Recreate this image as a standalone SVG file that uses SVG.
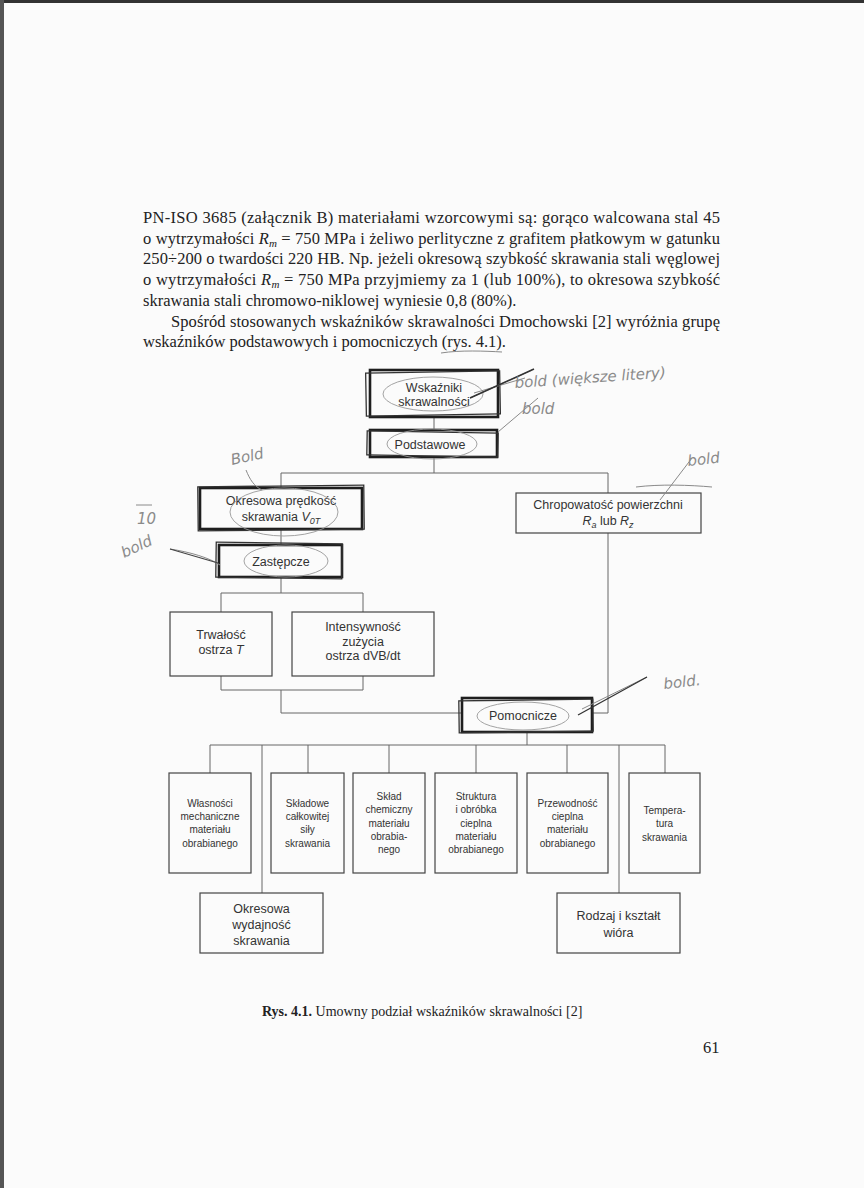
<svg xmlns="http://www.w3.org/2000/svg" width="864" height="1188" viewBox="0 0 864 1188">
<style>
.body{font-family:"Liberation Serif","Times New Roman",serif;font-size:16.5px;fill:#222}
.cap{font-family:"Liberation Serif","Times New Roman",serif;font-size:14px;fill:#222}
.t{font-family:"Liberation Sans",Arial,sans-serif;font-size:12.5px;fill:#333;text-anchor:middle}
.s{font-family:"Liberation Sans",Arial,sans-serif;font-size:10px;fill:#333;text-anchor:middle}
.box{fill:none;stroke:#444;stroke-width:1.2}
.heavy{fill:none;stroke:#1e1e1e;stroke-width:2.6}
.scr{fill:none;stroke:#333;stroke-width:1.3}
.con{fill:none;stroke:#666;stroke-width:1}
.hw{font-family:"DejaVu Sans",sans-serif;font-style:italic;font-size:15px;fill:#8a8a8a}
.hwl{fill:none;stroke:#8a8a8a;stroke-width:1}
.ell{fill:none;stroke:#999;stroke-width:0.9}
</style>
<rect width="864" height="1188" fill="#fbfbfb"/>
<rect x="0" y="0" width="864" height="3" fill="#333"/>
<rect x="0" y="0" width="4" height="1188" fill="#555"/>

<g id="paragraph">
<text class="body" x="143" y="223" textLength="577" lengthAdjust="spacing">PN-ISO 3685 (załącznik B) materiałami wzorcowymi są: gorąco walcowana stal 45</text>
<text class="body" x="143" y="244" textLength="577" lengthAdjust="spacing">o wytrzymałości <tspan font-style="italic">R<tspan font-size="11px" dy="3">m</tspan></tspan><tspan dy="-3"> = 750 MPa i żeliwo perlityczne z grafitem płatkowym w gatunku</tspan></text>
<text class="body" x="143" y="264" textLength="577" lengthAdjust="spacing">250÷200 o twardości 220 HB. Np. jeżeli okresową szybkość skrawania stali węglowej</text>
<text class="body" x="143" y="285" textLength="577" lengthAdjust="spacing">o wytrzymałości <tspan font-style="italic">R<tspan font-size="11px" dy="3">m</tspan></tspan><tspan dy="-3"> = 750 MPa przyjmiemy za 1 (lub 100%), to okresowa szybkość</tspan></text>
<text class="body" x="143" y="306">skrawania stali chromowo-niklowej wyniesie 0,8 (80%).</text>
<text class="body" x="171" y="327" textLength="549" lengthAdjust="spacing">Spośród stosowanych wskaźników skrawalności Dmochowski [2] wyróżnia grupę</text>
<text class="body" x="143" y="347">wskaźników podstawowych i pomocniczych (rys. 4.1).</text>
</g>

<g id="connectors">
<path class="con" d="M434 417V430M434 457V473M281 473H608M281 473V488M608 473V493"/>
<path class="con" d="M281 529V545M281 577V593M221 593H363M221 593V612M363 593V612"/>
<path class="con" d="M221 676V690M363 676V690M221 690H363M281 690V713H462"/>
<path class="con" d="M608 533V713H592"/>
<path class="con" d="M527 732V745M210 745H665M210 745V773M308 745V773M389 745V773M476 745V773M567 745V773M665 745V773M262 745V893M619 745V893"/>
</g>

<g id="n-wskazniki">
<rect class="heavy" x="370" y="370" width="128" height="47"/>
<rect class="scr" x="366" y="372" width="134" height="43" transform="rotate(-1 434 393)"/>
<text class="t" x="434" y="391.5">Wskaźniki</text>
<text class="t" x="434" y="405.5">skrawalności</text>
</g>
<g id="n-podstawowe">
<rect class="heavy" x="370" y="430" width="127" height="27"/>
<rect class="scr" x="367" y="432" width="131" height="24" transform="rotate(1 434 444)"/>
<text class="t" x="430" y="448.5">Podstawowe</text>
</g>
<g id="n-okresowa">
<rect class="heavy" x="200" y="488" width="162" height="41"/>
<rect class="scr" x="198" y="486" width="166" height="44" transform="rotate(-0.6 281 508)"/>
<text class="t" x="281" y="505">Okresowa prędkość</text>
<text class="t" x="281" y="521">skrawania <tspan font-style="italic">V<tspan font-size="9px" dy="3">0T</tspan></tspan></text>
</g>
<g id="n-chropowatosc">
<rect class="box" x="516" y="493" width="185" height="40" stroke-width="1.6"/>
<text class="t" x="608" y="508.5">Chropowatość powierzchni</text>
<text class="t" x="608" y="524.5"><tspan font-style="italic">R<tspan font-size="9px" dy="3">a</tspan></tspan><tspan dy="-3"> lub </tspan><tspan font-style="italic">R<tspan font-size="9px" dy="3">z</tspan></tspan></text>
</g>
<g id="n-zastepcze">
<rect class="heavy" x="219" y="545" width="123" height="32"/>
<rect class="scr" x="216" y="543" width="126" height="35" transform="rotate(0.8 280 561)"/>
<text class="t" x="281" y="565.5">Zastępcze</text>
</g>
<g id="n-trwalosc">
<rect class="box" x="170" y="612" width="102" height="64"/>
<text class="t" x="221" y="639">Trwałość</text>
<text class="t" x="221" y="654">ostrza <tspan font-style="italic">T</tspan></text>
</g>
<g id="n-intensywnosc">
<rect class="box" x="292" y="612" width="142" height="64"/>
<text class="t" x="363" y="631">Intensywność</text>
<text class="t" x="363" y="645.5">zużycia</text>
<text class="t" x="363" y="660">ostrza dVB/dt</text>
</g>
<g id="n-pomocnicze">
<rect class="heavy" x="462" y="698" width="130" height="34"/>
<rect class="scr" x="459" y="700" width="134" height="32" transform="rotate(-0.8 527 715)"/>
<text class="t" x="523" y="719.5">Pomocnicze</text>
</g>

<g id="n-wlasnosci">
<rect class="box" x="169" y="773" width="82" height="100"/>
<text class="s" x="210" y="806.5">Własności</text>
<text class="s" x="210" y="820">mechaniczne</text>
<text class="s" x="210" y="833">materiału</text>
<text class="s" x="210" y="846.5">obrabianego</text>
</g>
<g id="n-skladowe">
<rect class="box" x="271" y="773" width="73" height="100"/>
<text class="s" x="307.5" y="806.5">Składowe</text>
<text class="s" x="307.5" y="820">całkowitej</text>
<text class="s" x="307.5" y="833">siły</text>
<text class="s" x="307.5" y="846.5">skrawania</text>
</g>
<g id="n-sklad">
<rect class="box" x="353" y="773" width="72" height="100"/>
<text class="s" x="389" y="800">Skład</text>
<text class="s" x="389" y="813">chemiczny</text>
<text class="s" x="389" y="826.5">materiału</text>
<text class="s" x="389" y="840">obrabia-</text>
<text class="s" x="389" y="853">nego</text>
</g>
<g id="n-struktura">
<rect class="box" x="435" y="773" width="82" height="100"/>
<text class="s" x="476" y="800">Struktura</text>
<text class="s" x="476" y="813">i obróbka</text>
<text class="s" x="476" y="826.5">cieplna</text>
<text class="s" x="476" y="840">materiału</text>
<text class="s" x="476" y="853">obrabianego</text>
</g>
<g id="n-przewodnosc">
<rect class="box" x="527" y="773" width="81" height="100"/>
<text class="s" x="567.5" y="806.5">Przewodność</text>
<text class="s" x="567.5" y="820">cieplna</text>
<text class="s" x="567.5" y="833">materiału</text>
<text class="s" x="567.5" y="846.5">obrabianego</text>
</g>
<g id="n-temperatura">
<rect class="box" x="629" y="773" width="71" height="100"/>
<text class="s" x="664.5" y="813.5">Tempera-</text>
<text class="s" x="664.5" y="827">tura</text>
<text class="s" x="664.5" y="840.5">skrawania</text>
</g>
<g id="n-wydajnosc">
<rect class="box" x="200" y="893" width="123" height="60"/>
<text class="t" x="261.5" y="912.5">Okresowa</text>
<text class="t" x="261.5" y="928.5">wydajność</text>
<text class="t" x="261.5" y="944.5">skrawania</text>
</g>
<g id="n-rodzaj">
<rect class="box" x="557" y="893" width="123" height="60"/>
<text class="t" x="618.5" y="919.5">Rodzaj i kształt</text>
<text class="t" x="618.5" y="936.5">wióra</text>
</g>

<g id="caption">
<text class="cap" x="262" y="1016"><tspan font-weight="bold">Rys. 4.1.</tspan> Umowny podział wskaźników skrawalności [2]</text>
<text class="body" x="703" y="1053" font-size="17px">61</text>
</g>

<g id="annotations">
<path class="hwl" d="M441 353C460 350 485 351 502 352"/>
<ellipse class="ell" cx="433" cy="394" rx="50" ry="17"/>
<ellipse class="ell" cx="432" cy="444" rx="45" ry="15"/>
<ellipse class="ell" cx="284" cy="512" rx="54" ry="24"/>
<ellipse class="ell" cx="286" cy="561" rx="42" ry="16"/>
<ellipse class="ell" cx="523" cy="716" rx="46" ry="14"/>
<path class="hwl" d="M470 398L532 370M474 393L525 378"/>
<path d="M470 398L534 369" fill="none" stroke="#333" stroke-width="1.6"/>
<text class="hw" x="515" y="388" transform="rotate(-4 515 388)" font-size="17px">bold (większe litery)</text>
<path class="hwl" d="M498 432L538 398"/>
<text class="hw" x="522" y="414" font-size="13px">bold</text>
<text class="hw" x="232" y="465" transform="rotate(-12 232 465)" font-size="17px">Bold</text>
<path class="hwl" d="M246 470C250 480 254 486 262 490"/>
<text class="hw" x="688" y="466" transform="rotate(-6 688 466)">bold</text>
<path class="hwl" d="M692 458L660 500M636 487C660 484 690 485 712 487"/>
<text class="hw" x="664" y="689" transform="rotate(-6 664 689)">bold.</text>
<path class="hwl" d="M647 677L582 709"/>
<path d="M647 677L578 715" fill="none" stroke="#333" stroke-width="1.3"/>
<path class="hwl" d="M136 505H152"/>
<text class="hw" x="137" y="524" font-size="15px" font-style="normal">10</text>
<text class="hw" x="124" y="558" transform="rotate(-25 124 558)" font-size="14px">bold</text>
<path class="hwl" d="M170 549C190 552 210 558 220 565"/>
<path d="M170 549L218 563" fill="none" stroke="#444" stroke-width="1.2"/>
</g>
</svg>
